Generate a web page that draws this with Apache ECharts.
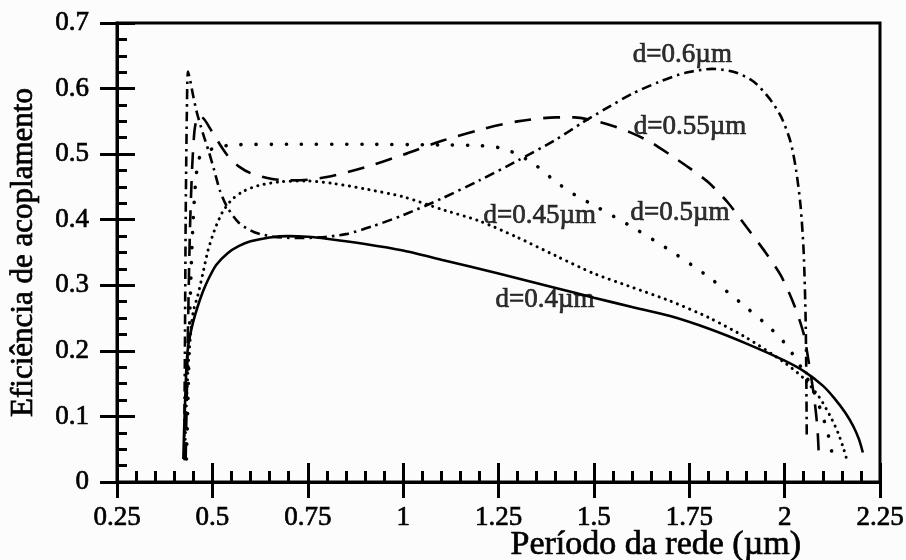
<!DOCTYPE html>
<html>
<head>
<meta charset="utf-8">
<script src="https://cdn.jsdelivr.net/npm/echarts@6/dist/echarts.min.js"></script>
<style>
  html, body { margin: 0; padding: 0; background: #fcfcfc; }
  #chart { width: 906px; height: 560px; }
</style>
</head>
<body>
<div id="chart"></div>
<script>
// Coupling efficiency vs. grating period, one curve per grating depth d.
// Each entry is [period (µm), efficiency].
const curveD040 = [
  [0.424,0.035],[0.426,0.08],[0.429,0.13],[0.432,0.175],[0.436,0.205],[0.442,0.225],
  [0.45,0.245],[0.46,0.265],[0.475,0.29],[0.49,0.31],[0.51,0.331],[0.54,0.349],
  [0.57,0.36],[0.60,0.367],[0.65,0.373],[0.70,0.375],[0.75,0.374],[0.80,0.371],
  [0.90,0.363],[1.00,0.353],[1.10,0.339],[1.25,0.318],[1.40,0.296],[1.50,0.281],
  [1.60,0.267],[1.70,0.253],[1.80,0.234],[1.90,0.211],[2.00,0.185],[2.05,0.169],
  [2.10,0.147],[2.13,0.128],[2.16,0.105],[2.18,0.085],[2.195,0.065],[2.205,0.045]
];
const curveD045 = [
  [0.427,0.035],[0.432,0.12],[0.437,0.18],[0.443,0.225],[0.45,0.26],[0.462,0.285],
  [0.475,0.318],[0.488,0.352],[0.505,0.383],[0.525,0.41],[0.55,0.43],[0.58,0.443],
  [0.62,0.452],[0.68,0.458],[0.75,0.459],[0.82,0.455],[0.90,0.447],[1.00,0.435],
  [1.10,0.416],[1.20,0.398],[1.30,0.373],[1.40,0.345],[1.50,0.318],[1.60,0.297],
  [1.70,0.276],[1.80,0.251],[1.90,0.22],[2.00,0.182],[2.05,0.158],[2.09,0.13],
  [2.12,0.1],[2.14,0.075],[2.155,0.05],[2.165,0.03]
];
const curveD050 = [
  [0.432,0.035],[0.437,0.15],[0.442,0.28],[0.448,0.38],[0.455,0.45],[0.463,0.49],
  [0.475,0.502],[0.50,0.508],[0.55,0.514],[0.70,0.515],[0.90,0.515],[1.10,0.514],
  [1.20,0.513],[1.25,0.51],[1.30,0.5],[1.35,0.482],[1.40,0.458],[1.45,0.438],
  [1.50,0.422],[1.60,0.389],[1.70,0.353],[1.80,0.313],[1.90,0.266],[1.96,0.236],
  [2.00,0.212],[2.04,0.178],[2.075,0.14],[2.10,0.1],[2.115,0.07],[2.127,0.035]
];
const curveD055 = [
  [0.43,0.035],[0.435,0.2],[0.441,0.38],[0.447,0.48],[0.453,0.535],[0.46,0.556],
  [0.468,0.558],[0.48,0.552],[0.493,0.54],[0.51,0.524],[0.525,0.51],[0.545,0.494],
  [0.57,0.481],[0.60,0.471],[0.65,0.463],[0.70,0.46],[0.75,0.461],[0.80,0.465],
  [0.90,0.48],[1.00,0.499],[1.10,0.52],[1.20,0.537],[1.30,0.55],[1.40,0.556],
  [1.45,0.556],[1.50,0.551],[1.55,0.543],[1.60,0.532],[1.65,0.518],[1.70,0.499],
  [1.75,0.479],[1.80,0.457],[1.85,0.427],[1.90,0.389],[1.95,0.35],[1.99,0.315],
  [2.025,0.27],[2.05,0.226],[2.064,0.18],[2.077,0.131],[2.086,0.082],[2.09,0.035]
];
const curveD060 = [
  [0.426,0.035],[0.428,0.2],[0.430,0.4],[0.433,0.56],[0.436,0.626],[0.442,0.612],
  [0.45,0.588],[0.46,0.562],[0.475,0.532],[0.49,0.505],[0.505,0.475],[0.52,0.444],
  [0.54,0.418],[0.57,0.395],[0.61,0.381],[0.66,0.374],[0.72,0.372],[0.78,0.373],
  [0.85,0.378],[0.92,0.39],[1.00,0.407],[1.10,0.432],[1.20,0.46],[1.30,0.49],
  [1.40,0.522],[1.47,0.548],[1.53,0.569],[1.60,0.592],[1.67,0.61],[1.74,0.624],
  [1.81,0.63],[1.87,0.625],[1.92,0.61],[1.96,0.585],[1.99,0.558],[2.015,0.52],
  [2.03,0.476],[2.042,0.42],[2.05,0.35],[2.055,0.25],[2.057,0.15],[2.058,0.068]
];

// Curve captions and the point each one is centred on
const curveNames = ['d=0.4µm', 'd=0.45µm', 'd=0.5µm', 'd=0.55µm', 'd=0.6µm'];
const captionAt = [[1.372, 0.278], [1.358, 0.406], [1.726, 0.411], [1.752, 0.542], [1.732, 0.652]];

const xTitle = 'Período da rede (µm)';
const yTitle = 'Eficiência de acoplamento';

const SERIF = '"Liberation Serif", "Times New Roman", serif';
const INK = '#000';
// a thin outline on the glyphs gives the heavy printed look
const heavy = { color: INK, fontFamily: SERIF, textBorderColor: INK, textBorderWidth: 0.7 };

const chart = echarts.init(document.getElementById('chart'));

function lineSeries(data, lineStyle) {
  return {
    type: 'line',
    data: data,
    showSymbol: false,
    smooth: 0.25,
    silent: true,
    clip: true,
    lineStyle: Object.assign({ color: INK }, lineStyle)
  };
}

const series = [
  lineSeries(curveD040, { width: 2.6, type: 'solid' }),
  lineSeries(curveD045, { width: 3, type: [0.1, 6.5], cap: 'round' }),
  lineSeries(curveD050, { width: 3.6, type: [0.1, 15], cap: 'round' }),
  lineSeries(curveD055, { width: 2.6, type: [17, 12] }),
  lineSeries(curveD060, { width: 2.6, type: [10, 5, 2.5, 5], cap: 'butt' }),
  {
    type: 'scatter',
    silent: true,
    symbolSize: 0,
    data: captionAt.map((p, i) => ({ value: p, name: curveNames[i] })),
    label: Object.assign({
      show: true,
      position: 'inside',
      formatter: p => p.name,
      fontSize: 27,
      align: 'center',
      verticalAlign: 'middle'
    }, heavy)
  }
];

const tickLine = { color: INK, width: 3 };

chart.setOption({
  animation: false,
  backgroundColor: '#fcfcfc',
  grid: {
    left: 117, right: 26, top: 23, bottom: 78,
    outerBoundsMode: 'none',
    show: true, borderColor: INK, borderWidth: 3, backgroundColor: 'transparent'
  },
  xAxis: [
    {
      type: 'value', min: 0.25, max: 2.25, interval: 0.25, position: 'bottom',
      axisLine: { lineStyle: tickLine },
      axisTick: { inside: true, length: 19, lineStyle: tickLine },
      minorTick: { show: true, splitNumber: 5, length: 11, lineStyle: tickLine },
      splitLine: { show: false },
      axisLabel: Object.assign({ margin: 22, fontSize: 27 }, heavy),
      name: xTitle,
      nameLocation: 'middle',
      nameGap: 46,
      nameMoveOverlap: false,
      nameTextStyle: Object.assign({ fontSize: 34, align: 'left', padding: [0, 0, 0, 12] }, heavy)
    },
    {
      type: 'value', min: 0.25, max: 2.25, interval: 0.25, position: 'bottom',
      axisLine: { show: false },
      axisTick: { inside: false, length: 16, lineStyle: tickLine },
      splitLine: { show: false },
      axisLabel: { show: false }
    }
  ],
  yAxis: [
    {
      type: 'value', min: 0, max: 0.7, interval: 0.1, position: 'left',
      axisLine: { lineStyle: tickLine },
      axisTick: { inside: true, length: 18, lineStyle: tickLine },
      minorTick: { show: true, splitNumber: 4, length: 10, lineStyle: tickLine },
      splitLine: { show: false },
      axisLabel: Object.assign({ margin: 28, fontSize: 27 }, heavy),
      name: yTitle,
      nameLocation: 'middle',
      nameGap: 78,
      nameMoveOverlap: false,
      nameTextStyle: Object.assign({ fontSize: 31 }, heavy)
    },
    {
      type: 'value', min: 0, max: 0.7, interval: 0.1, position: 'left',
      axisLine: { show: false },
      axisTick: { inside: false, length: 17, lineStyle: tickLine },
      splitLine: { show: false },
      axisLabel: { show: false }
    }
  ],
  series: series
});
</script>
</body>
</html>
